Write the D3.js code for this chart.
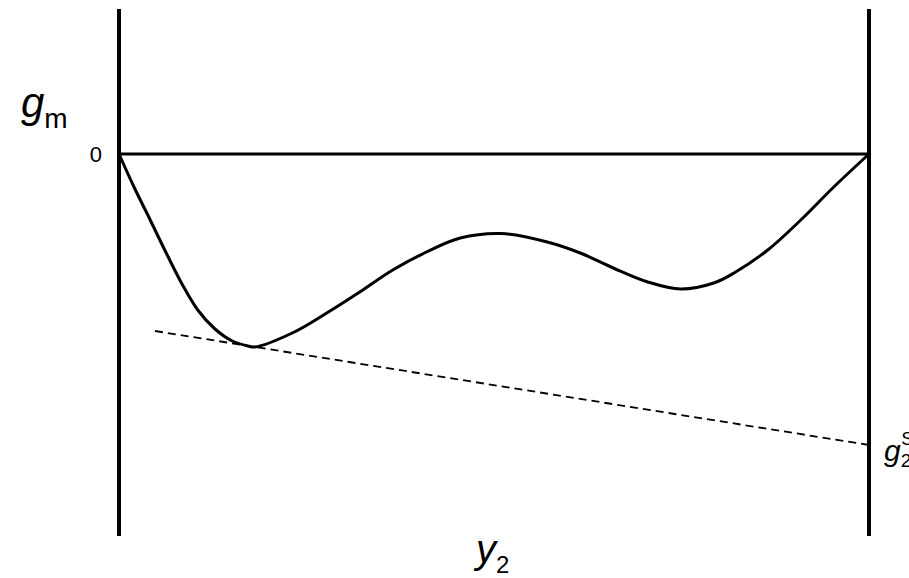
<!DOCTYPE html>
<html>
<head>
<meta charset="utf-8">
<script src="https://cdn.jsdelivr.net/npm/d3@7"></script>
<style>
  body { margin: 0; background: #fff; }
  text { font-family: "Liberation Sans", Arial, sans-serif; fill: #000; }
</style>
</head>
<body>
<svg id="chart" width="909" height="578"></svg>
<script>
"use strict";

// mole fraction y2 and mixing free energy g_m (arbitrary units)
var y2 = [0, 0.020, 0.041, 0.061, 0.084, 0.105, 0.128, 0.151, 0.172, 0.181,
  0.231, 0.277, 0.321, 0.365, 0.410, 0.455, 0.510, 0.571, 0.615,
  0.659, 0.705, 0.749, 0.793, 0.820, 0.865, 0.909, 0.953, 1.0];
var gm = [0, -0.33, -0.65, -0.96, -1.30, -1.56, -1.75, -1.87, -1.92, -1.93,
  -1.79, -1.59, -1.38, -1.16, -0.98, -0.84, -0.795, -0.88, -0.99,
  -1.14, -1.28, -1.35, -1.29, -1.19, -0.96, -0.66, -0.33, 0];

// common tangent (dashed)
var tangentX = [0.048, 1.0];
var tangentG = [-1.77, -2.91];

var xDomain = [0, 1];
var gDomain = [1.45, -3.82];

var svg = d3.select("#chart");

var x = d3.scaleLinear().domain(xDomain).range([119, 869]);
var y = d3.scaleLinear().domain(gDomain).range([9, 536]);

// vertical boundaries
svg.selectAll(".edge")
  .data(xDomain)
  .enter()
  .append("line")
  .attr("class", "edge")
  .attr("x1", function (d) { return x(d); })
  .attr("x2", function (d) { return x(d); })
  .attr("y1", y(gDomain[0]))
  .attr("y2", y(gDomain[1]))
  .attr("stroke", "#000")
  .attr("stroke-width", 4);

// zero line
svg.append("line")
  .attr("x1", x(0))
  .attr("x2", x(1))
  .attr("y1", y(0))
  .attr("y2", y(0))
  .attr("stroke", "#000")
  .attr("stroke-width", 3);

// tangent
svg.append("line")
  .attr("x1", x(tangentX[0]))
  .attr("y1", y(tangentG[0]))
  .attr("x2", x(tangentX[1]))
  .attr("y2", y(tangentG[1]))
  .attr("stroke", "#000")
  .attr("stroke-width", 1.8)
  .attr("stroke-dasharray", "8,5");

// g_m curve
var line = d3.line()
  .x(function (d, i) { return x(y2[i]); })
  .y(function (d) { return y(d); })
  .curve(d3.curveCatmullRom.alpha(0.5));

svg.append("path")
  .datum(gm)
  .attr("d", line)
  .attr("fill", "none")
  .attr("stroke", "#000")
  .attr("stroke-width", 3);

// labels
var gl = svg.append("text").attr("x", 21).attr("y", 117);
gl.append("tspan").attr("font-style", "italic").attr("font-size", 42).text("g");
gl.append("tspan").attr("font-size", 28).attr("dy", 11).text("m");

svg.append("text")
  .attr("x", 102)
  .attr("y", y(0) + 8)
  .attr("text-anchor", "end")
  .attr("font-size", 22)
  .text("0");

var xl = svg.append("text").attr("x", 476).attr("y", 563);
xl.append("tspan").attr("font-style", "italic").attr("font-size", 40).text("y");
xl.append("tspan").attr("font-size", 24).attr("dy", 10).text("2");

var sl = svg.append("text").attr("x", 884).attr("y", 461);
sl.append("tspan").attr("font-style", "italic").attr("font-size", 30).text("g");
sl.append("tspan").attr("font-size", 19).attr("dy", 6).text("2");
sl.append("tspan").attr("font-size", 19).attr("dx", -10).attr("dy", -22).text("S");
</script>
</body>
</html>
